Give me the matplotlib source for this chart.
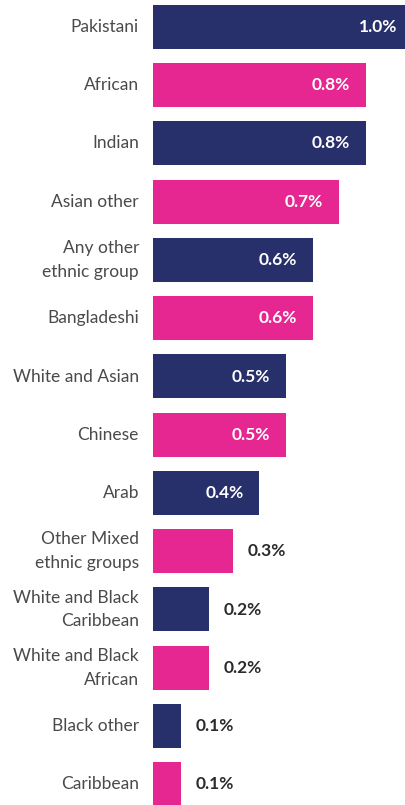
import matplotlib
matplotlib.use("Agg")
import matplotlib.pyplot as plt

categories = ["Pakistani", "African", "Indian", "Asian other", "Any other\nethnic group",
              "Bangladeshi", "White and Asian", "Chinese", "Arab", "Other Mixed\nethnic groups",
              "White and Black\nCaribbean", "White and Black\nAfrican", "Black other", "Caribbean"]
values = [0.98, 0.80, 0.80, 0.70, 0.60, 0.60, 0.50, 0.50, 0.40, 0.30, 0.21, 0.21, 0.105, 0.105]
value_labels = ["1.0%", "0.8%", "0.8%", "0.7%", "0.6%", "0.6%", "0.5%", "0.5%", "0.4%",
                "0.3%", "0.2%", "0.2%", "0.1%", "0.1%"]

NAVY = "#27306b"
PINK = "#e62691"
colors = [NAVY if i % 2 == 0 else PINK for i in range(len(categories))]

W, H = 406, 805
fig = plt.figure(figsize=(W / 100, H / 100), dpi=100)
ax = fig.add_axes([153 / W, 0, 1 - 153 / W, 1])
pitch = 58.25
y = list(range(len(categories)))
ax.barh(y, values, height=44 / pitch, color=colors)
ax.set_xlim(0, 253 / 266)
ax.set_ylim((H - 27) / pitch, -27 / pitch)
ax.axis("off")

font = "Lato"
for i, (v, lab, cat) in enumerate(zip(values, value_labels, categories)):
    if v >= 0.35:
        ax.annotate(lab, (v, i), xytext=(-16, 0), textcoords="offset pixels",
                    ha="right", va="center", color="white", fontsize=12.5,
                    fontweight="bold", family=font, annotation_clip=False)
    else:
        ax.annotate(lab, (v, i), xytext=(15, 0), textcoords="offset pixels",
                    ha="left", va="center", color="#2b2b2b", fontsize=12.5,
                    fontweight="bold", family=font, annotation_clip=False)
    ax.annotate(cat, (0, i), xytext=(-14, 0), textcoords="offset pixels",
                ha="right", va="center", color="#4a4a4a", fontsize=12.5,
                family=font, linespacing=1.6, annotation_clip=False)

fig.savefig("out.png", dpi=100)
